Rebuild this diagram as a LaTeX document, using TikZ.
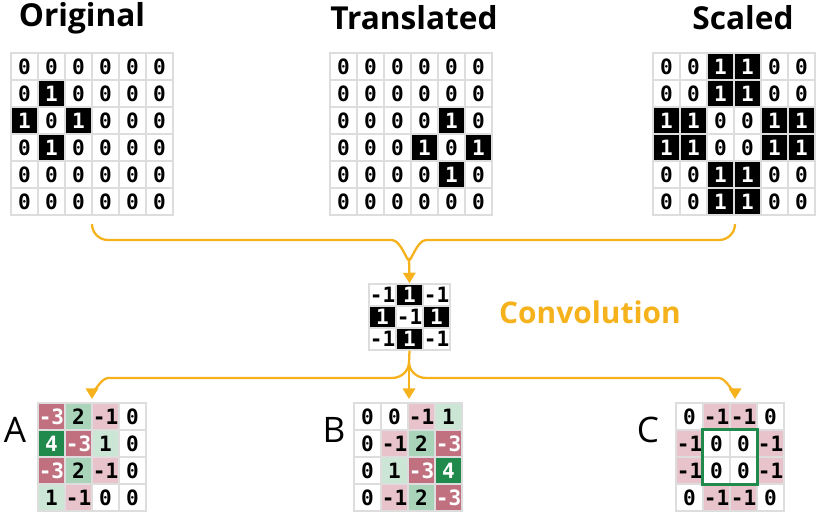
\documentclass[tikz,border=0pt]{standalone}
\usepackage{fontspec}
\setmainfont{Open Sans}
\newfontfamily\cellfont{DejaVu Sans Mono}
\usetikzlibrary{arrows.meta}
\definecolor{convorange}{HTML}{F5B21C}
\definecolor{gridgray}{HTML}{DDDDDD}
\definecolor{negdark}{HTML}{C0707F}
\definecolor{neglight}{HTML}{E8C3CB}
\definecolor{poslight}{HTML}{CCE6D5}
\definecolor{posmid}{HTML}{A9D4B9}
\definecolor{posdark}{HTML}{1F8A4C}
\tikzset{
  cell/.style={draw=gridgray, line width=0.8pt, minimum width=0.54cm, minimum height=0.54cm,
    inner sep=0pt, font=\cellfont\bfseries\fontsize{12}{12}\selectfont},
  bin0/.style={cell, fill=white},
  bin1/.style={cell, fill=black, text=white},
  c-3/.style={cell, fill=negdark, text=white},
  c-1/.style={cell, fill=neglight},
  c0/.style={cell, fill=white},
  c1/.style={cell, fill=poslight},
  c2/.style={cell, fill=posmid},
  c4/.style={cell, fill=posdark, text=white},
  title/.style={font=\bfseries\fontsize{18}{20}\selectfont},
  panel/.style={font=\fontsize{20}{22}\selectfont},
  flow/.style={draw=convorange, line width=1.3pt},
  flowarrow/.style={flow, -{Triangle[width=7pt,length=6pt]}}
}
% grid: name, left, top, cell style prefix, rows
\newcommand\pixgrid[5]{%
  \foreach \row [count=\r] in {#5} {
    \foreach \v [count=\c] in \row {
      \node[#4\v] (#1-\r-\c) at ({#2+13.5+27*(\c-1)}, {#3+13.5+27*(\r-1)}) {\v};
    }
  }
}
\begin{document}
\begin{tikzpicture}[x=0.02cm, y=-0.02cm]
\useasboundingbox (0,0) rectangle (820,514);

% input pictures
\node[title] (original) at (82,18) {Original};
\node[title] (translated) at (414,18) {Translated};
\node[title] (scaled) at (743,18) {Scaled};
\pixgrid{orig}{11}{53}{bin}{{0,0,0,0,0,0},{0,1,0,0,0,0},{1,0,1,0,0,0},{0,1,0,0,0,0},{0,0,0,0,0,0},{0,0,0,0,0,0}}
\pixgrid{trans}{330}{53}{bin}{{0,0,0,0,0,0},{0,0,0,0,0,0},{0,0,0,0,1,0},{0,0,0,1,0,1},{0,0,0,0,1,0},{0,0,0,0,0,0}}
\pixgrid{scal}{653}{53}{bin}{{0,0,1,1,0,0},{0,0,1,1,0,0},{1,1,0,0,1,1},{1,1,0,0,1,1},{0,0,1,1,0,0},{0,0,1,1,0,0}}

% kernel
\foreach \row [count=\r] in {{-1,1,-1},{1,-1,1},{-1,1,-1}} {
  \foreach \v [count=\c] in \row {
    \pgfmathtruncatemacro\b{\v>0}
    \node[bin\b, minimum height=0.44cm] (kern-\r-\c) at ({369+13.5+27*(\c-1)}, {284+11+22*(\r-1)}) {\v};
  }
}
\node[font=\bfseries\fontsize{17}{20}\selectfont, text=convorange] (conv) at (590,312) {Convolution};

% braces into the kernel
\coordinate (bracetop) at (409,258);
\draw[flow] (92,224) to[out=-90,in=180] (108,240) -- (392,240) to[out=0,in=-90] (bracetop);
\draw[flow] (735,224) to[out=-90,in=0] (719,240) -- (426,240) to[out=180,in=-90] (bracetop);
\draw[flowarrow] (bracetop) -- (kern-1-2.north);

% braces out of the kernel
\coordinate (split) at (409,362);
\coordinate (tipA) at (92,399);
\coordinate (tipB) at (409,399);
\coordinate (tipC) at (735,399);
\draw[flow] (kern-3-2.south) -- (split);
\draw[flow] (split) to[out=-90,in=0] (392,378) -- (108,378) to[out=180,in=-90] (92,390);
\draw[flow] (split) to[out=-90,in=180] (426,378) -- (719,378) to[out=0,in=-90] (735,390);
\draw[flowarrow] (92,389) -- (tipA);
\draw[flowarrow] (735,389) -- (tipC);
\draw[flowarrow] (split) -- (tipB);

% results
\node[panel] (labA) at (15,430) {A};
\node[panel] (labB) at (334,430) {B};
\node[panel] (labC) at (648,430) {C};
\pixgrid{resA}{38}{403}{c}{{-3,2,-1,0},{4,-3,1,0},{-3,2,-1,0},{1,-1,0,0}}
\pixgrid{resB}{354}{403}{c}{{0,0,-1,1},{0,-1,2,-3},{0,1,-3,4},{0,-1,2,-3}}
\pixgrid{resC}{676}{403}{c}{{0,-1,-1,0},{-1,0,0,-1},{-1,0,0,-1},{0,-1,-1,0}}
\draw[posdark, line width=1.5pt] (resC-2-2.north west) rectangle (resC-3-3.south east);
\end{tikzpicture}
\end{document}
